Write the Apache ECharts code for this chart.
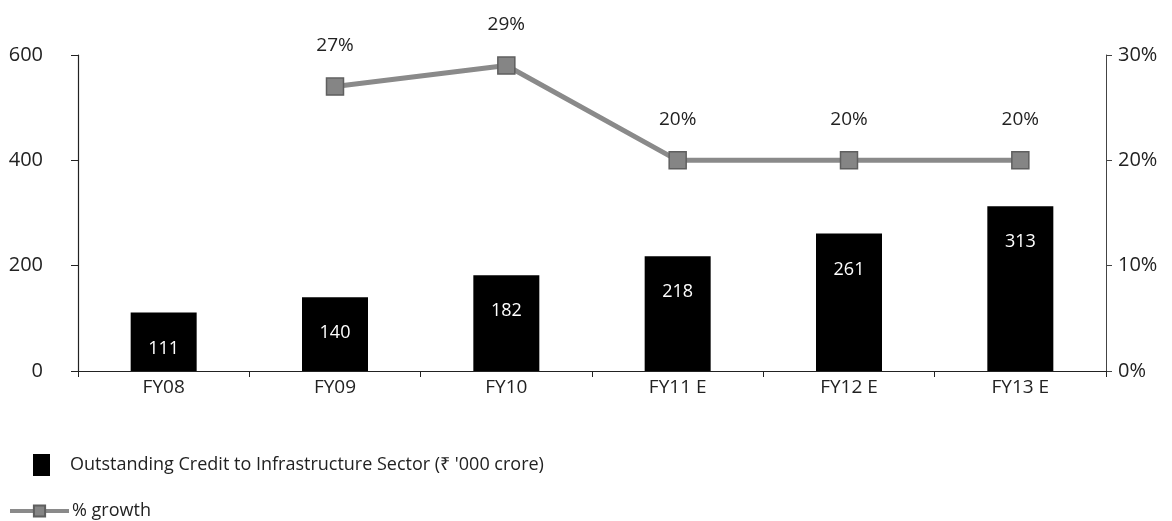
<!DOCTYPE html>
<html><head><meta charset="utf-8">
<script src="https://cdn.jsdelivr.net/npm/echarts@6/dist/echarts.min.js"></script>
<style>html,body{margin:0;padding:0;background:#fff}#c{width:1172px;height:521px}</style>
</head><body><div id="c"></div>
<script>
const categories = ['FY08','FY09','FY10','FY11 E','FY12 E','FY13 E'];
const creditValues = [111,140,182,218,261,313];
const growthValues = [null,27,29,20,20,20];
const leftTicks = [0,200,400,600];
const rightTicks = [0,10,20,30];

const FONT = '"Open Sans",sans-serif';
const chart = echarts.init(document.getElementById('c'));
chart.setOption({
  animation:false,
  backgroundColor:'#fff',
  textStyle:{fontFamily:FONT},
  grid:{left:78,right:66,top:55,bottom:150},
  legend:[
    {data:['Outstanding Credit to Infrastructure Sector (₹ \'000 crore)'],left:33,top:454,padding:0,itemWidth:17,itemHeight:22,icon:'rect',
     textStyle:{fontFamily:FONT,fontSize:18,color:'#222',padding:[0,0,0,15]},itemGap:10},
    {data:['% growth'],left:8,top:502,padding:0,itemWidth:59,itemHeight:14,itemGap:2,
     lineStyle:{width:4,color:'#8a8a8a'},
     textStyle:{fontFamily:FONT,fontSize:18,color:'#222',padding:[0,0,0,-2]}}
  ],
  xAxis:{type:'category',data:categories,
    axisLine:{lineStyle:{color:'#222',width:1.2}},
    axisTick:{show:true,length:6,lineStyle:{color:'#222'}},
    axisLabel:{fontFamily:FONT,fontSize:19,color:'#222',margin:7}},
  yAxis:[
    {type:'value',min:0,max:600,interval:200,
     axisLine:{show:true,lineStyle:{color:'#222',width:1.2}},
     axisTick:{show:true,length:7,lineStyle:{color:'#222'}},
     splitLine:{show:false},
     axisLabel:{fontFamily:FONT,fontSize:20,color:'#222',margin:35,formatter:v=>leftTicks.includes(v)?String(v):''}},
    {type:'value',min:0,max:30,interval:10,
     axisLine:{show:true,lineStyle:{color:'#444',width:1}},
     axisTick:{show:true,length:6,lineStyle:{color:'#444'}},
     splitLine:{show:false},
     axisLabel:{fontFamily:FONT,fontSize:20,color:'#222',margin:12,formatter:v=>rightTicks.includes(v)?v+'%':''}}
  ],
  series:[
    {name:'Outstanding Credit to Infrastructure Sector (₹ \'000 crore)',type:'bar',data:creditValues,barWidth:66,
     itemStyle:{color:'#000'},
     label:{show:true,position:'insideTop',distance:27,color:'#fff',fontFamily:FONT,fontSize:18}},
    {name:'% growth',type:'line',yAxisIndex:1,data:growthValues,
     lineStyle:{color:'#8a8a8a',width:5},
     itemStyle:{color:'#858585',borderColor:'#5f5f5f',borderWidth:1.5},
     symbol:'rect',symbolSize:17,
     label:{show:true,position:'top',distance:22,color:'#222',fontFamily:FONT,fontSize:19,formatter:p=>p.value+'%'}}
  ]
});
</script></body></html>
